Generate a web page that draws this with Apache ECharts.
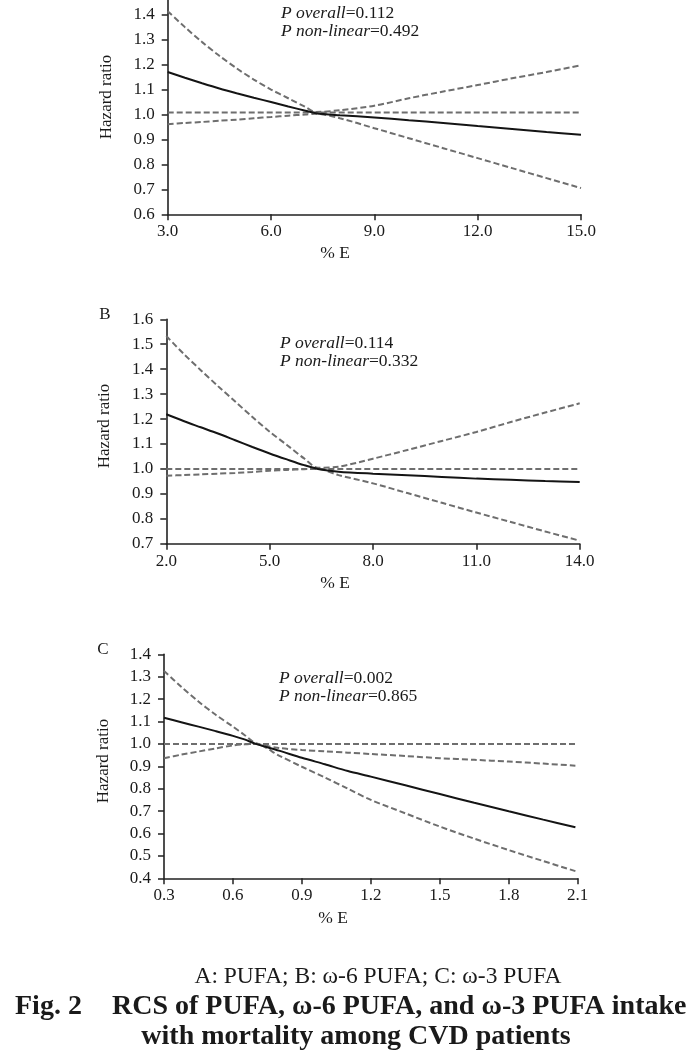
<!DOCTYPE html>
<html>
<head>
<meta charset="utf-8">
<script src="https://cdn.jsdelivr.net/npm/echarts@6/dist/echarts.min.js"></script>
<style>html,body{margin:0;padding:0;background:#fff}#c{width:688px;height:1063px}</style>
</head>
<body>
<div id="c"></div>
<script>
// Panel A: PUFA
var xA = [3, 3.5, 4, 4.5, 5, 5.5, 6, 6.5, 7, 7.3, 8, 9, 10, 11, 12, 13, 14, 15];
var fitA = [1.17, 1.147, 1.125, 1.104, 1.085, 1.067, 1.05, 1.032, 1.015, 1.005, 0.997, 0.988, 0.977, 0.966, 0.954, 0.942, 0.93, 0.919];
var upA = [1.414, 1.35, 1.29, 1.235, 1.185, 1.14, 1.10, 1.065, 1.03, 1.01, 1.017, 1.035, 1.065, 1.092, 1.118, 1.145, 1.17, 1.197];
var loA = [0.961, 0.966, 0.97, 0.975, 0.979, 0.985, 0.99, 0.995, 1.0, 1.003, 0.985, 0.945, 0.905, 0.865, 0.825, 0.785, 0.745, 0.705];
var refA = 1.008;
// Panel B: omega-6 PUFA
var xB = [2, 2.5, 3, 3.5, 4, 4.5, 5, 5.5, 6, 6.4, 7, 8, 9, 10, 11, 12, 13, 14];
var fitB = [1.219, 1.192, 1.167, 1.142, 1.115, 1.088, 1.062, 1.038, 1.015, 1.0, 0.989, 0.981, 0.975, 0.968, 0.961, 0.956, 0.951, 0.947];
var upB = [1.533, 1.462, 1.396, 1.332, 1.27, 1.208, 1.149, 1.096, 1.042, 1.005, 1.009, 1.041, 1.076, 1.112, 1.148, 1.188, 1.226, 1.263];
var loB = [0.973, 0.975, 0.978, 0.981, 0.984, 0.988, 0.993, 0.996, 0.999, 1.0, 0.975, 0.942, 0.903, 0.864, 0.825, 0.787, 0.749, 0.712];
var refB = 1.0;
// Panel C: omega-3 PUFA
var xC = [0.3, 0.375, 0.45, 0.525, 0.6, 0.65, 0.7, 0.8, 0.9, 1.0, 1.1, 1.2, 1.35, 1.5, 1.65, 1.8, 1.95, 2.09];
var fitC = [1.117, 1.097, 1.077, 1.057, 1.036, 1.02, 1.0, 0.97, 0.938, 0.909, 0.879, 0.854, 0.815, 0.776, 0.737, 0.699, 0.662, 0.628];
var upC = [1.326, 1.255, 1.189, 1.13, 1.077, 1.04, 1.003, 0.982, 0.973, 0.967, 0.961, 0.955, 0.946, 0.936, 0.929, 0.921, 0.912, 0.903];
var loC = [0.936, 0.952, 0.966, 0.98, 0.993, 0.998, 1.0, 0.948, 0.898, 0.85, 0.8, 0.75, 0.69, 0.631, 0.577, 0.526, 0.477, 0.432];
var refC = 1.0;

// axis settings [min, max, interval]
var xTicksA = [3, 15, 3], yTicksA = [0.6, 1.5, 0.1];
var xTicksB = [2, 14, 3], yTicksB = [0.7, 1.6, 0.1];
var xTicksC = [0.3, 2.1, 0.3], yTicksC = [0.4, 1.4, 0.1];

var annA = ['P overall', '=0.112', 'P non-linear', '=0.492'];
var annB = ['P overall', '=0.114', 'P non-linear', '=0.332'];
var annC = ['P overall', '=0.002', 'P non-linear', '=0.865'];
var panelLetters = ['B', 'C'];
var yName = 'Hazard ratio';
var xName = '% E';
var caption1 = 'A: PUFA; B: \u03c9-6 PUFA; C: \u03c9-3 PUFA';
var captionFig = 'Fig. 2';
var caption2 = 'RCS of PUFA, \u03c9-6 PUFA, and \u03c9-3 PUFA intake';
var caption3 = 'with mortality among CVD patients';

var FONT = "'Liberation Serif', 'Times New Roman', serif";
var TXT = '#1a1a1a';

function pairs(xs, ys) { return xs.map(function (x, i) { return [x, ys[i]]; }); }

function xAxisDef(idx, t) {
  return {
    type: 'value', gridIndex: idx, min: t[0], max: t[1], interval: t[2],
    axisLine: { lineStyle: { color: '#222', width: 1.6 } },
    axisTick: { show: true, inside: false, length: 6, lineStyle: { color: '#222', width: 1.5 } },
    splitLine: { show: false },
    axisLabel: { color: TXT, fontFamily: FONT, fontSize: 17, margin: 9,
      formatter: function (v) { return v.toFixed(1); } }
  };
}
function yAxisDef(idx, t) {
  return {
    type: 'value', gridIndex: idx, min: t[0], max: t[1], interval: t[2],
    axisLine: { show: true, lineStyle: { color: '#222', width: 1.6 } },
    axisTick: { show: true, inside: false, length: 6, lineStyle: { color: '#222', width: 1.5 } },
    splitLine: { show: false },
    axisLabel: { color: TXT, fontFamily: FONT, fontSize: 17, margin: 13,
      formatter: function (v) { return v.toFixed(1); } }
  };
}
var dashStyle = { color: '#6e6e6e', width: 2, type: [6, 3] };
var solidStyle = { color: '#141414', width: 2 };
function seriesFor(idx, xs, fit, up, lo, ref, xt) {
  var base = { type: 'line', xAxisIndex: idx, yAxisIndex: idx, symbol: 'none', smooth: 0.3, silent: true, animation: false };
  return [
    Object.assign({}, base, { data: pairs(xs, up), lineStyle: dashStyle }),
    Object.assign({}, base, { data: pairs(xs, lo), lineStyle: dashStyle }),
    Object.assign({}, base, { smooth: false, data: [[xt[0], ref], [xt[1], ref]], lineStyle: dashStyle }),
    Object.assign({}, base, { data: pairs(xs, fit), lineStyle: solidStyle })
  ];
}

function txt(x, y, text, opt) {
  opt = opt || {};
  return {
    type: 'text', x: x, y: y, rotation: opt.rot || 0, silent: true,
    style: Object.assign({
      text: text, fill: TXT, fontFamily: FONT, fontSize: opt.size || 17,
      fontWeight: opt.bold ? 'bold' : 'normal',
      align: opt.align || 'left', textAlign: opt.align || 'left',
      verticalAlign: 'middle', textVerticalAlign: 'middle'
    }, opt.rich ? { rich: opt.rich } : {})
  };
}
var AS = 17.5;
var richI = { i: { fontStyle: 'italic', fontFamily: FONT, fontSize: AS, fill: TXT, color: TXT }, n: { fontFamily: FONT, fontSize: AS, fill: TXT, color: TXT } };
function ann(x, y, a) {
  return [
    txt(x, y, '{i|' + a[0] + '}{n|' + a[1] + '}', { rich: richI, size: AS }),
    txt(x, y + 18, '{i|' + a[2] + '}{n|' + a[3] + '}', { rich: richI, size: AS })
  ];
}

var chart = echarts.init(document.getElementById('c'), null, { renderer: 'canvas' });
var graphics = [].concat(
  [txt(107, 97, yName, { rot: Math.PI / 2, align: 'center' }),
   txt(105, 426, yName, { rot: Math.PI / 2, align: 'center' }),
   txt(104, 761, yName, { rot: Math.PI / 2, align: 'center' }),
   txt(335, 253, xName, { align: 'center', size: 17.5 }),
   txt(335, 583, xName, { align: 'center', size: 17.5 }),
   txt(333, 918, xName, { align: 'center', size: 17.5 }),
   txt(105, 315, panelLetters[0], { align: 'center' }),
   txt(103, 650, panelLetters[1], { align: 'center' })],
  ann(281, 13.5, annA),
  ann(280, 343, annB),
  ann(279, 678, annC),
  [txt(378, 977, caption1, { align: 'center', size: 23.5 }),
   txt(15, 1007, captionFig, { size: 28, bold: true }),
   txt(112, 1007, caption2, { size: 28, bold: true }),
   txt(356, 1037, caption3, { align: 'center', size: 28, bold: true })]
);

chart.setOption({
  animation: false,
  backgroundColor: '#fff',
  grid: [
    { left: 167.7, right: 107, top: -10.3, bottom: 848.7, outerBoundsMode: 'none', containLabel: false },
    { left: 166.3, right: 108.3, top: 319.3, bottom: 519.3, outerBoundsMode: 'none', containLabel: false },
    { left: 164, right: 110.3, top: 654.3, bottom: 184.7, outerBoundsMode: 'none', containLabel: false }
  ],
  xAxis: [xAxisDef(0, xTicksA), xAxisDef(1, xTicksB), xAxisDef(2, xTicksC)],
  yAxis: [yAxisDef(0, yTicksA), yAxisDef(1, yTicksB), yAxisDef(2, yTicksC)],
  series: [].concat(
    seriesFor(0, xA, fitA, upA, loA, refA, xTicksA),
    seriesFor(1, xB, fitB, upB, loB, refB, xTicksB),
    seriesFor(2, xC, fitC, upC, loC, refC, xTicksC)
  ),
  graphic: graphics
});
</script>
</body>
</html>
